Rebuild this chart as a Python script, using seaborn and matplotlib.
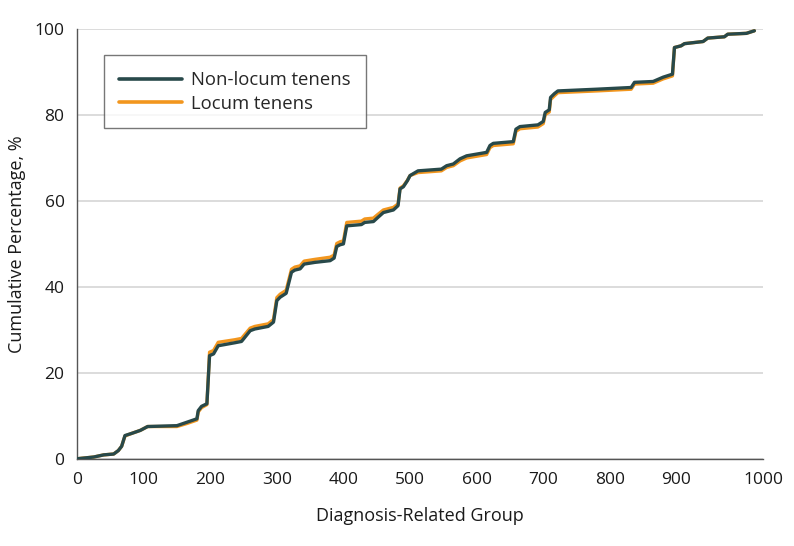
import matplotlib
matplotlib.use("Agg")
import matplotlib.pyplot as plt
import seaborn as sns
import pandas as pd

# Data (x in axis units of the reference's tick scale)
drg_rank = [0, 25, 40, 55, 62, 67, 72, 82, 95, 106,
            150, 165, 180, 182, 187, 195, 199, 205, 212, 237,
            247, 260, 267, 287, 295, 300, 305, 314, 322, 327,
            335, 341, 357, 380, 386, 390, 395, 400, 405, 427,
            432, 445, 452, 460, 475, 482, 485, 490, 496, 500,
            512, 547, 555, 565, 575, 585, 615, 620, 625, 655,
            659, 665, 692, 700, 703, 709, 711, 717, 722, 780,
            832, 837, 865, 880, 894, 897, 907, 912, 940, 947,
            972, 977, 1005, 1017]

non_locum = [0.1, 0.5, 1.0, 1.2, 2.0, 3.0, 5.5, 6.0, 6.7, 7.6,
             7.8, 8.6, 9.4, 11.3, 12.3, 12.9, 24.1, 24.5, 26.4, 27.1,
             27.4, 29.9, 30.3, 30.9, 31.9, 36.9, 37.7, 38.6, 43.5, 44.0,
             44.3, 45.4, 45.8, 46.2, 46.8, 49.5, 49.9, 50.1, 54.3, 54.6,
             55.1, 55.3, 56.3, 57.4, 58.0, 59.0, 62.9, 63.4, 64.8, 66.0,
             67.1, 67.5, 68.3, 68.7, 69.9, 70.6, 71.4, 73.0, 73.5, 73.9,
             76.8, 77.4, 77.8, 78.6, 80.7, 81.3, 84.2, 85.1, 85.7, 86.1,
             86.5, 87.7, 87.9, 88.9, 89.6, 95.8, 96.2, 96.7, 97.2, 98.0,
             98.3, 98.9, 99.1, 99.7]

locum = [0.1, 0.5, 1.0, 1.2, 2.0, 3.0, 5.4, 6.0, 6.7, 7.6,
         7.6, 8.3, 9.1, 11.0, 12.0, 12.7, 24.9, 25.3, 27.2, 27.8,
         28.1, 30.5, 30.9, 31.5, 32.5, 37.6, 38.4, 39.3, 44.2, 44.7,
         45.0, 46.1, 46.5, 47.0, 47.5, 50.2, 50.6, 50.8, 55.1, 55.4,
         55.9, 56.1, 57.0, 58.0, 58.6, 59.4, 63.1, 63.6, 64.9, 66.0,
         66.7, 67.1, 67.9, 68.3, 69.4, 70.1, 70.9, 72.5, 73.0, 73.4,
         76.3, 76.9, 77.3, 78.1, 80.2, 80.8, 83.7, 84.6, 85.3, 85.7,
         86.1, 87.3, 87.5, 88.5, 89.2, 95.8, 96.2, 96.7, 97.2, 98.0,
         98.3, 98.9, 99.1, 99.7]

x_ticks = [0, 100, 200, 300, 400, 500, 600, 700, 800, 900, 1030]
x_tick_labels = ["0", "100", "200", "300", "400", "500", "600", "700", "800", "900", "1000"]
y_ticks = [0, 20, 40, 60, 80, 100]

sns.set_theme(style="white")
plt.rcParams['font.family'] = ['Open Sans', 'DejaVu Sans']

fig = plt.figure(figsize=(7.94, 5.46), dpi=100)
ax = fig.add_axes([0.097, 0.159, 0.864, 0.787])

dark = "#28494a"
orange = "#f2961e"

df_l = pd.DataFrame({"x": drg_rank, "y": locum})
df_n = pd.DataFrame({"x": drg_rank, "y": non_locum})
sns.lineplot(data=df_l, x="x", y="y", ax=ax, color=orange, linewidth=2.4,
             label="Locum tenens", zorder=3)
sns.lineplot(data=df_n, x="x", y="y", ax=ax, color=dark, linewidth=2.4,
             label="Non-locum tenens", zorder=4)

ax.set_xlim(0, 1030)
ax.set_ylim(0, 100)
ax.set_xticks(x_ticks)
ax.set_xticklabels(x_tick_labels)
ax.set_yticks(y_ticks)
ax.yaxis.grid(True, color="#d9d9d9", linewidth=1.3)
ax.xaxis.grid(False)
ax.set_axisbelow(True)

for s in ["top", "right"]:
    ax.spines[s].set_visible(False)
for s in ["left", "bottom"]:
    ax.spines[s].set_color("#555555")
    ax.spines[s].set_linewidth(1.0)

ax.tick_params(axis="both", which="major", direction="out", length=5,
               width=1.0, color="#555555", labelsize=12.5, labelcolor="#1a1a1a", pad=4)

ax.set_xlabel("Diagnosis-Related Group", fontsize=13, color="#1a1a1a", labelpad=14)
ax.set_ylabel("Cumulative Percentage, %", fontsize=13, color="#1a1a1a", labelpad=6)

handles, labels = ax.get_legend_handles_labels()
order = [labels.index("Non-locum tenens"), labels.index("Locum tenens")]
leg = ax.legend([handles[i] for i in order], [labels[i] for i in order],
                loc="upper left", bbox_to_anchor=(0.039, 0.94),
                frameon=True, fancybox=False, fontsize=13.3,
                handlelength=3.4, handletextpad=0.45, borderpad=0.85,
                labelspacing=0.3, borderaxespad=0)
leg.get_frame().set_edgecolor("#555555")
leg.get_frame().set_linewidth(1.0)
for line in leg.get_lines():
    line.set_linewidth(2.6)

fig.savefig("out.png", dpi=100)
